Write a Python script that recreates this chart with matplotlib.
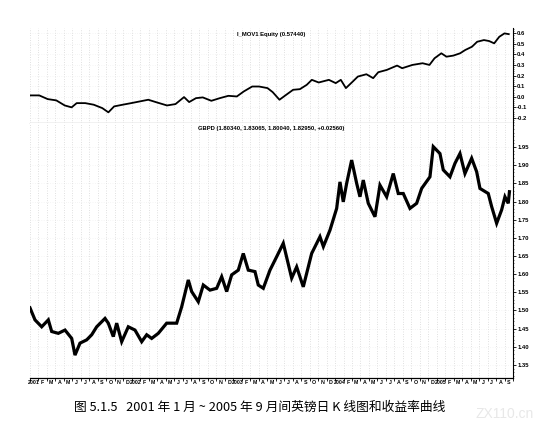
import matplotlib.pyplot as plt
import numpy as np

plt.rcParams['font.family'] = ['Liberation Sans', 'DejaVu Sans']

# months since Jan 2001 / value
eq_t = [0.0, 1.09, 2.09, 3.10, 4.10, 4.91, 5.51, 6.52, 7.52, 8.53, 9.25, 9.93, 10.94, 11.94,
        12.95, 13.96, 14.96, 16.17, 17.17, 18.18, 18.78, 19.59, 20.39, 21.40, 22.40, 23.41,
        24.41, 25.22, 26.22, 27.03, 28.03, 28.64, 29.44, 30.24, 31.05, 31.85, 32.66, 33.26,
        34.07, 35.27, 36.08, 36.68, 37.28, 38.09, 38.69, 39.70, 40.50, 41.10, 42.11, 43.32,
        43.92, 45.13, 46.33, 47.14, 47.74, 48.54, 49.15, 49.95, 50.76, 51.36, 52.16, 52.77,
        53.57, 54.17, 54.78, 55.38, 55.99, 56.50]
eq_v = [0.013, 0.013, -0.022, -0.034, -0.082, -0.100, -0.060, -0.060, -0.075, -0.107, -0.147,
        -0.091, -0.075, -0.060, -0.044, -0.028, -0.053, -0.082, -0.069, -0.003, -0.050, -0.013,
        -0.006, -0.038, -0.013, 0.009, 0.003, 0.050, 0.097, 0.097, 0.082, 0.044, -0.028, 0.019,
        0.066, 0.072, 0.113, 0.160, 0.135, 0.160, 0.129, 0.160, 0.082, 0.144, 0.191, 0.213,
        0.176, 0.232, 0.254, 0.295, 0.270, 0.301, 0.317, 0.301, 0.364, 0.411, 0.379, 0.389,
        0.411, 0.442, 0.473, 0.520, 0.536, 0.527, 0.505, 0.567, 0.599, 0.592]

px_t = [0.0, 0.59, 1.38, 2.16, 2.56, 3.34, 4.13, 4.92, 5.31, 5.90, 6.69, 7.28, 7.87, 8.85,
        9.24, 9.83, 10.23, 10.82, 11.60, 12.39, 13.18, 13.77, 14.36, 15.14, 16.13, 17.31,
        17.90, 18.68, 19.08, 19.86, 20.45, 21.24, 22.03, 22.62, 23.21, 23.80, 24.58, 25.17,
        25.76, 26.55, 26.94, 27.53, 28.32, 29.11, 29.89, 30.88, 31.47, 32.25, 33.24, 34.22,
        34.62, 35.40, 36.19, 36.58, 36.97, 37.37, 37.96, 38.55, 38.94, 39.33, 39.92, 40.71,
        41.30, 42.09, 42.87, 43.46, 44.05, 44.84, 45.63, 46.22, 47.20, 47.59, 48.38, 48.77,
        49.56, 50.15, 50.74, 51.33, 52.12, 52.71, 53.10, 54.08, 54.48, 55.07, 55.66, 56.05,
        56.44, 56.58]
px_v = [1.507, 1.474, 1.455, 1.474, 1.442, 1.437, 1.446, 1.423, 1.377, 1.410, 1.419, 1.433,
        1.455, 1.478, 1.465, 1.428, 1.465, 1.414, 1.455, 1.446, 1.414, 1.433, 1.423, 1.437,
        1.465, 1.465, 1.510, 1.584, 1.552, 1.524, 1.570, 1.556, 1.561, 1.593, 1.552, 1.598,
        1.611, 1.657, 1.611, 1.607, 1.570, 1.561, 1.611, 1.648, 1.685, 1.589, 1.620, 1.565,
        1.657, 1.703, 1.676, 1.721, 1.781, 1.854, 1.799, 1.850, 1.914, 1.850, 1.813, 1.859,
        1.795, 1.758, 1.845, 1.813, 1.877, 1.822, 1.822, 1.781, 1.795, 1.836, 1.868, 1.951,
        1.932, 1.887, 1.868, 1.905, 1.932, 1.877, 1.919, 1.882, 1.836, 1.822, 1.786, 1.740,
        1.777, 1.813, 1.795, 1.827]

years = ['2001', '2002', '2003', '2004', '2005']
month_letters = ['J', 'F', 'M', 'A', 'M', 'J', 'J', 'A', 'S', 'O', 'N', 'D']
eq_ticks = [-0.2, -0.1, 0.0, 0.1, 0.2, 0.3, 0.4, 0.5, 0.6]
px_ticks = [1.35, 1.40, 1.45, 1.50, 1.55, 1.60, 1.65, 1.70, 1.75, 1.80, 1.85, 1.90, 1.95]

n_months = 57
W, H = 536, 437
fig = plt.figure(figsize=(W / 100, H / 100), dpi=100)
L, R = 30 / W, 513 / W
ax1 = fig.add_axes([L, 1 - 122.7 / H, R - L, (122.7 - 28) / H])
ax2 = fig.add_axes([L, 1 - 378 / H, R - L, (378 - 122.7) / H])

tick_font = dict(fontsize=4.2, fontweight='bold')

for ax in (ax1, ax2):
    ax.set_xlim(0, n_months)
    for s in ('left', 'top'):
        ax.spines[s].set_visible(False)
    ax.spines['right'].set_linewidth(0.8)
    ax.yaxis.tick_right()
    ax.set_xticks(np.arange(0, n_months + 1))
    ax.grid(axis='x', color='#c4c4c4', linestyle=(0, (1, 2.5)), linewidth=0.5)
    ax.grid(axis='y', color='#e0e0e0', linestyle=(0, (1, 3)), linewidth=0.4)
    ax.tick_params(axis='y', direction='out', length=2, width=0.6, pad=1)
    ax.minorticks_on()
    ax.tick_params(axis='y', which='minor', length=1, width=0.4)
    ax.tick_params(axis='x', which='minor', bottom=False)

# top panel: equity curve
ax1.plot(eq_t, eq_v, color='black', lw=1.3)
ax1.set_ylim(-0.245, 0.65)
ax1.set_yticks(eq_ticks)
ax1.set_yticklabels(['%.1f' % v for v in eq_ticks], **tick_font)
ax1.tick_params(axis='x', bottom=False, labelbottom=False)
ax1.spines['bottom'].set_linestyle((0, (2, 1)))
ax1.spines['bottom'].set_linewidth(0.8)
ax1.text(0.5, 0.93, 'I_MOV1 Equity (0.57440)', transform=ax1.transAxes,
         ha='center', va='center', **tick_font)

# bottom panel: GBP daily
ax2.plot(px_t, px_v, color='black', lw=2.3, solid_joinstyle='miter')
ax2.set_ylim(1.314, 2.017)
ax2.set_yticks(px_ticks)
ax2.set_yticklabels(['%.2f' % v for v in px_ticks], **tick_font)
ax2.spines['bottom'].set_linewidth(0.9)
ax2.text(0.5, 0.977, 'GBPD (1.80340, 1.83065, 1.80040, 1.82950, +0.02560)',
         transform=ax2.transAxes, ha='center', va='center', **tick_font)

ax2.set_xticklabels([''] * (n_months + 1))
ax2.tick_params(axis='x', direction='out', length=2.5, width=0.6)
for i in range(n_months):
    lab = years[i // 12] if i % 12 == 0 else month_letters[i % 12]
    ax2.text(i + 0.5, -0.008, lab, transform=ax2.get_xaxis_transform(),
             ha='center', va='top', fontsize=3.8, fontweight='bold')

fig.text(260 / W, 1 - 407 / H,
         '图 5.1.5   2001 年 1 月 ~ 2005 年 9 月间英镑日 K 线图和收益率曲线',
         ha='center', va='center', fontsize=9.2,
         family=['Noto Sans CJK SC', 'DejaVu Sans'])
fig.text(505 / W, 1 - 414 / H, 'ZX110.cn', ha='center', va='center',
         fontsize=10, color='#e8e8e8')

fig.savefig('out.png', dpi=100)
